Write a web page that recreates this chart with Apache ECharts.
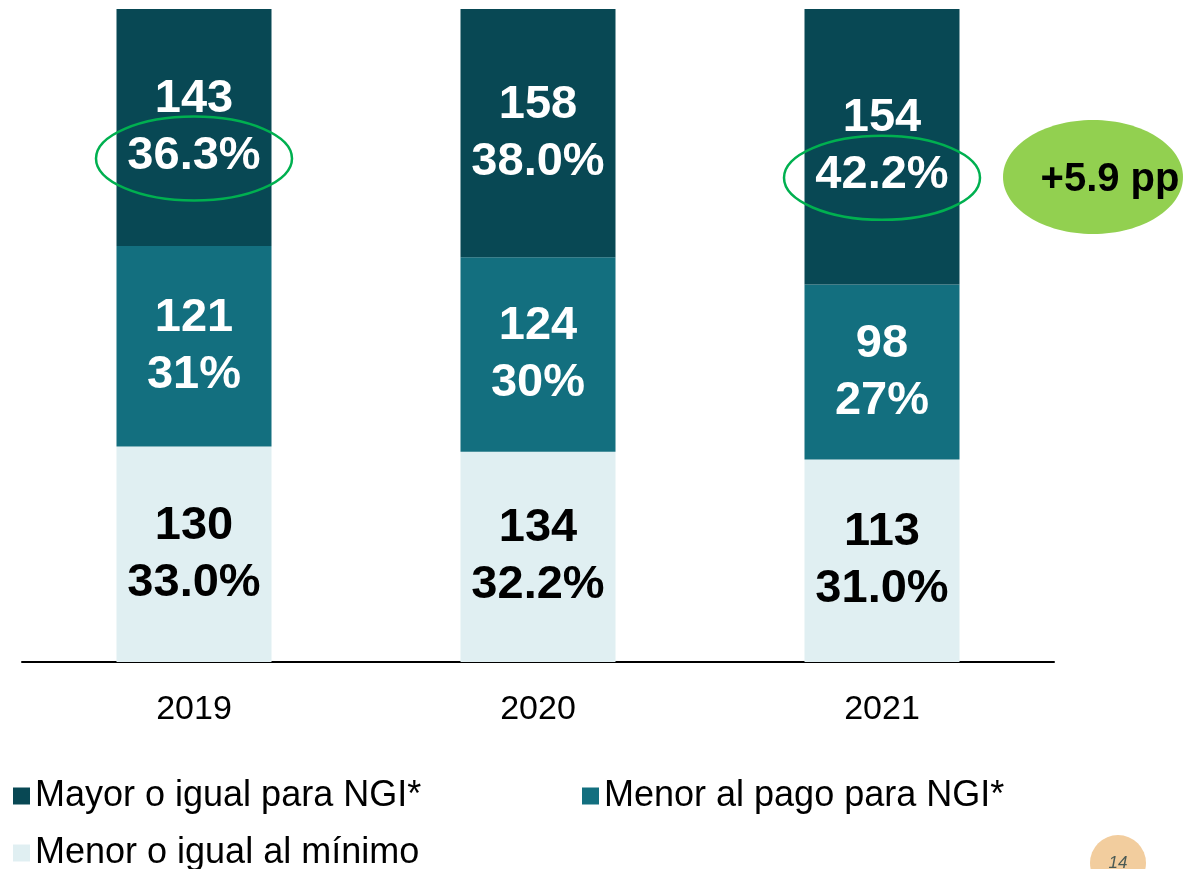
<!DOCTYPE html>
<html>
<head>
<meta charset="utf-8">
<script src="https://cdn.jsdelivr.net/npm/echarts@6/dist/echarts.min.js"></script>
<style>
  html, body { margin: 0; padding: 0; background: #fff; }
  #chart { width: 1191px; height: 869px; }
</style>
</head>
<body>
<div id="chart"></div>
<script>
// datos
const years = ['2019', '2020', '2021'];
const seriesNames = ['Mayor o igual para NGI*', 'Menor al pago para NGI*', 'Menor o igual al mínimo'];

// cantidades
const countMin = [130, 134, 113];
const countMenor = [121, 124, 98];
const countMayor = [143, 158, 154];

// participación (%) usada para la altura de cada segmento
const shareMin = [33.0, 32.2, 31.0];
const shareMenor = [30.7, 29.8, 26.8];
const shareMayor = [36.3, 38.0, 42.2];

// textos de porcentaje tal como aparecen
const pctMin = ['33.0%', '32.2%', '31.0%'];
const pctMenor = ['31%', '30%', '27%'];
const pctMayor = ['36.3%', '38.0%', '42.2%'];

// años resaltados con óvalo
const highlighted = [0, 2];
const deltaText = '+5.9 pp';
const pageNumber = '14';

const colors = {
  mayor: '#084854',
  menor: '#136f7f',
  min: '#e0eff2'
};
const FONT = 'Liberation Sans, Arial, sans-serif';

let myChart = echarts.init(document.getElementById('chart'));

function barLabel(counts, pcts, color) {
  return {
    show: true,
    position: 'inside',
    color: color,
    fontFamily: FONT,
    fontWeight: 'bold',
    fontSize: 47,
    lineHeight: 57,
    formatter: p => counts[p.dataIndex] + '\n' + pcts[p.dataIndex]
  };
}

const legendText = { fontFamily: FONT, fontSize: 36, color: '#000' };

function legendAt(name, left, top) {
  return {
    data: [name],
    left: left, top: top,
    icon: 'rect', itemWidth: 17, itemHeight: 17, itemGap: 8,
    textStyle: legendText
  };
}

let options = {
  animation: false,
  grid: { left: 22, right: 137, top: 9, bottom: 207 },
  xAxis: {
    type: 'category',
    data: years,
    axisLine: { show: true, lineStyle: { color: '#000', width: 2 } },
    axisTick: { show: false },
    axisLabel: { fontFamily: FONT, fontSize: 34, color: '#000', margin: 31 }
  },
  yAxis: {
    type: 'value',
    min: 0,
    max: 100,
    show: false,
    splitLine: { show: false }
  },
  legend: [
    legendAt(seriesNames[0], 8, 773),
    legendAt(seriesNames[1], 577, 773),
    legendAt(seriesNames[2], 8, 830)
  ],
  series: [
    {
      name: seriesNames[2], type: 'bar', stack: 'total', barWidth: 155,
      itemStyle: { color: colors.min },
      label: barLabel(countMin, pctMin, '#000'),
      data: shareMin
    },
    {
      name: seriesNames[1], type: 'bar', stack: 'total', barWidth: 155,
      itemStyle: { color: colors.menor },
      label: barLabel(countMenor, pctMenor, '#fff'),
      data: shareMenor
    },
    {
      name: seriesNames[0], type: 'bar', stack: 'total', barWidth: 155,
      itemStyle: { color: colors.mayor },
      label: barLabel(countMayor, pctMayor, '#fff'),
      data: shareMayor
    }
  ]
};
myChart.setOption(options);

// óvalos verdes sobre el porcentaje del segmento superior
let graphics = [];
highlighted.forEach(i => {
  let cx = myChart.convertToPixel({ xAxisIndex: 0 }, i);
  let cy = myChart.convertToPixel({ yAxisIndex: 0 }, shareMin[i] + shareMenor[i] + shareMayor[i] / 2) + 31;
  graphics.push({
    type: 'ellipse',
    shape: { cx: cx, cy: cy, rx: 98, ry: 42 },
    style: { fill: 'none', stroke: '#00b050', lineWidth: 2.5 },
    z: 100
  });
});

// burbuja de variación
graphics.push({
  type: 'ellipse',
  shape: { cx: 1093, cy: 177, rx: 90, ry: 57 },
  style: { fill: '#92d050' },
  z: 100
});
graphics.push({
  type: 'text',
  x: 1110, y: 180,
  style: {
    text: deltaText, fill: '#000', font: 'bold 40px ' + FONT,
    align: 'center', verticalAlign: 'middle'
  },
  z: 101
});

// número de página
graphics.push({
  type: 'circle',
  shape: { cx: 1118, cy: 863, r: 28 },
  style: { fill: '#f2cd9e' },
  z: 100
});
graphics.push({
  type: 'text',
  x: 1118, y: 863,
  style: {
    text: pageNumber, fill: '#4a5a55', font: 'italic 17px ' + FONT,
    align: 'center', verticalAlign: 'middle'
  },
  z: 101
});

myChart.setOption({ graphic: graphics });
</script>
</body>
</html>
